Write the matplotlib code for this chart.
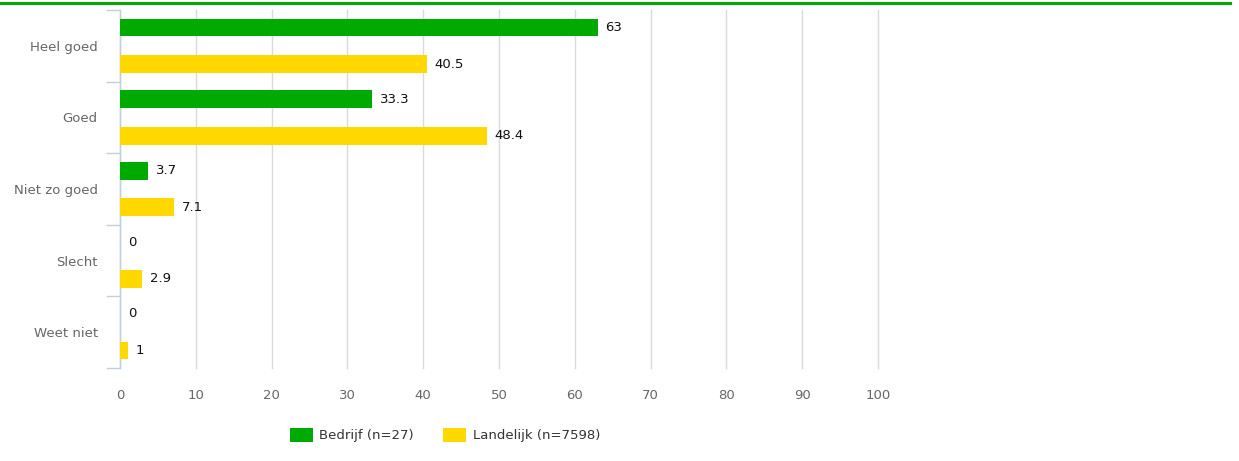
import matplotlib
matplotlib.use("Agg")
import matplotlib.pyplot as plt
from matplotlib.lines import Line2D
from matplotlib.patches import Patch
import numpy as np

plt.rcParams['font.family'] = ['DejaVu Sans']

# data
categories = ["Heel goed", "Goed", "Niet zo goed", "Slecht", "Weet niet"]
bedrijf = [63, 33.3, 3.7, 0, 0]
landelijk = [40.5, 48.4, 7.1, 2.9, 1]
bedrijf_labels = ["63", "33.3", "3.7", "0", "0"]
landelijk_labels = ["40.5", "48.4", "7.1", "2.9", "1"]
x_ticks = [0, 10, 20, 30, 40, 50, 60, 70, 80, 90, 100]
series_names = ["Bedrijf (n=27)", "Landelijk (n=7598)"]

green = "#00AA00"
yellow = "#FFD800"
grid_col = "#DADADA"
axis_col = "#C0D0E0"
label_col = "#666666"
fs = 9.5

fig = plt.figure(figsize=(12.39, 4.61), dpi=100)
ax = fig.add_axes([120 / 1239, 1 - 368 / 461, 758 / 1239, 358 / 461])

y = np.arange(len(categories))
off = 0.255
h = 0.25
ax.barh(y - off, bedrijf, height=h, color=green, linewidth=0, zorder=3)
ax.barh(y + off, landelijk, height=h, color=yellow, linewidth=0, zorder=3)

for yi, v, t in zip(y, bedrijf, bedrijf_labels):
    ax.annotate(t, (v, yi - off), xytext=(5.5, 0), textcoords="offset points",
                va="center", ha="left", fontsize=fs, color="#111111")
for yi, v, t in zip(y, landelijk, landelijk_labels):
    ax.annotate(t, (v, yi + off), xytext=(5.5, 0), textcoords="offset points",
                va="center", ha="left", fontsize=fs, color="#111111")

ax.set_xlim(0, 100)
ax.set_ylim(len(categories) - 0.5, -0.5)
ax.set_xticks(x_ticks)
ax.set_xticklabels([str(v) for v in x_ticks])
ax.tick_params(axis="x", length=0, pad=15, labelsize=fs, labelcolor=label_col)
ax.set_yticks(y)
ax.set_yticklabels(categories)
ax.tick_params(axis="y", which="major", length=0, pad=16, labelsize=fs, labelcolor=label_col)
ax.set_yticks(np.arange(len(categories) + 1) - 0.5, minor=True)
ax.tick_params(axis="y", which="minor", length=10, width=1, color=axis_col)
ax.xaxis.grid(True, color=grid_col, linewidth=1, zorder=0)
for gl in ax.get_xgridlines():
    gl.set_clip_on(False)
ax.set_axisbelow(True)
for s in ["top", "right", "bottom"]:
    ax.spines[s].set_visible(False)
ax.spines["left"].set_color(axis_col)
ax.spines["left"].set_linewidth(1)

# green rule along the top
fig.add_artist(Line2D([0, 0.993], [1 - 3 / 461, 1 - 3 / 461], color=green, linewidth=2.2))

handles = [Patch(facecolor=green), Patch(facecolor=yellow)]
fig.legend(handles, series_names, loc="center", bbox_to_anchor=(445 / 1239, 1 - 435 / 461),
           ncol=2, frameon=False, fontsize=fs, handlelength=1.75, handleheight=1.35,
           handletextpad=0.5, columnspacing=2.2, labelcolor="#333333")

fig.savefig("out.png", dpi=100)
